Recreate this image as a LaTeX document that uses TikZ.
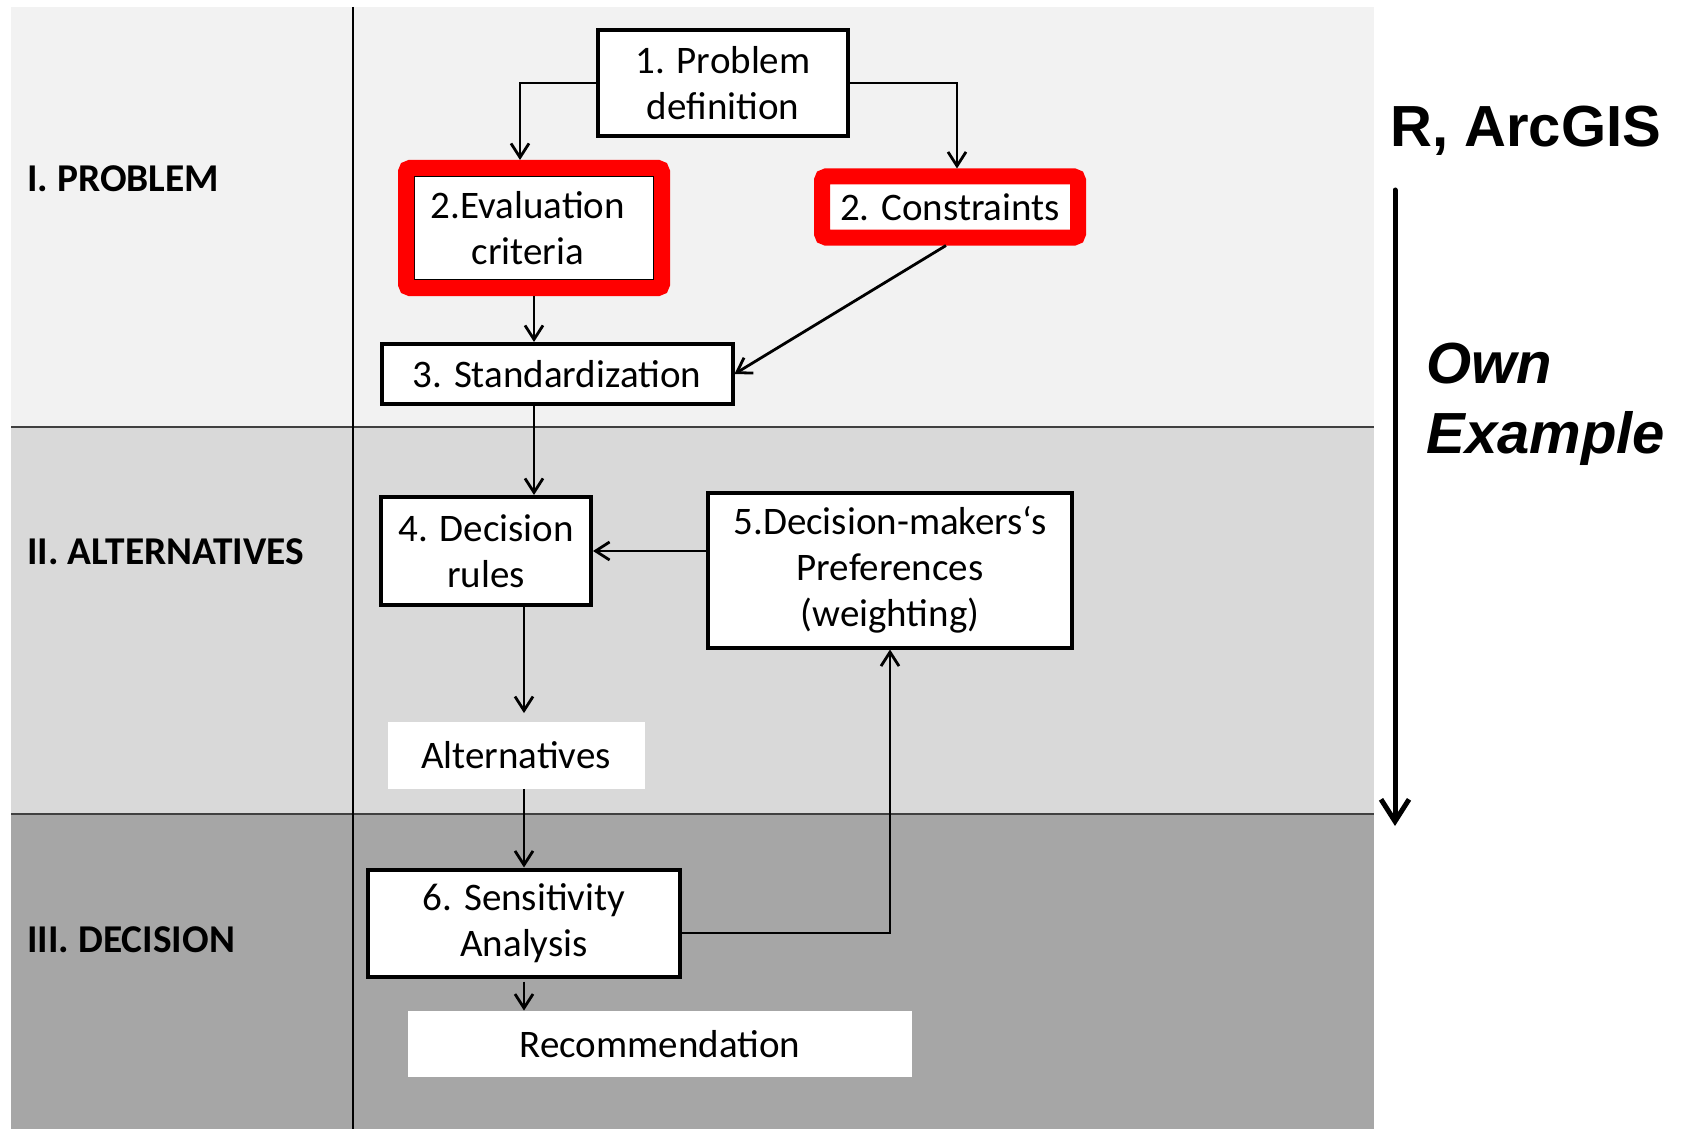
\documentclass[tikz,border=0pt]{standalone}
\usepackage{fontspec}
\setmainfont{Carlito}
\newfontfamily\arialfont{Liberation Sans}
\usetikzlibrary{arrows.meta, positioning, fit}
\definecolor{bandtop}{RGB}{242,242,242}
\definecolor{bandmid}{RGB}{217,217,217}
\definecolor{bandlow}{RGB}{166,166,166}
\definecolor{markred}{RGB}{255,0,0}
\definecolor{laneline}{RGB}{64,64,64}

\begin{document}
\begin{tikzpicture}[
    x=0.5pt, y=-0.5pt,
    every node/.style={font=\fontsize{19.5}{23}\selectfont},
    procbox/.style={draw, line width=2pt, fill=white, align=center, inner sep=0pt},
    plainbox/.style={fill=white, align=center, inner sep=0pt},
    redframe/.style={draw=markred, line width=8pt, rounded corners=2pt},
    lanetext/.style={anchor=west, inner sep=0pt, font=\fontsize{19.7}{23}\selectfont\bfseries},
    arrow/.style={-{Straight Barb[length=7pt, width=9pt]}, line width=1.4pt}
]
    \useasboundingbox (0,0) rectangle (1682,1129);

    % Swim lanes
    \fill[bandtop] (11,7) rectangle (1374,427);
    \fill[bandmid] (11,427) rectangle (1374,814);
    \fill[bandlow] (11,814) rectangle (1374,1129);
    \draw[laneline, line width=1pt] (11,427) -- (1374,427);
    \draw[laneline, line width=1pt] (11,814) -- (1374,814);
    \draw[line width=1pt] (353,7) -- (353,1129);

    \node[lanetext] (lane1) at (27,179) {I. PROBLEM};
    \node[lanetext] (lane2) at (27,552) {II. ALTERNATIVES};
    \node[lanetext] (lane3) at (27,940) {III. DECISION};

    % Steps
    \node[procbox, minimum width=125pt, minimum height=53pt] (prob) at (723,83) {1. Problem\\definition};
    \node[procbox, minimum width=121pt, minimum height=53pt] (eval) at (534,228) {2.Evaluation\hspace*{6pt}\\criteria\hspace*{6pt}};
    \node[procbox, minimum width=122pt, minimum height=24.5pt] (cons) at (950,207) {2. Constraints};
    \node[procbox, minimum width=175.5pt, minimum height=30pt] (stand) at (557,374) {3. Standardization};
    \node[procbox, minimum width=105pt, minimum height=54pt] (dec) at (486,551) {4. Decision\\rules};
    \node[procbox, minimum width=182pt, minimum height=77.5pt] (pref) at (890,570) {5.Decision-makers‘s\\Preferences\\(weighting)};
    \node[plainbox, minimum width=128.5pt, minimum height=33.5pt] (alt) at (516,755) {Alternatives};
    \node[procbox, minimum width=156pt, minimum height=53.5pt] (sens) at (524,923) {6. Sensitivity\\Analysis};
    \node[plainbox, minimum width=252pt, minimum height=33pt] (rec) at (660,1044) {Recommendation};

    % Highlights
    \node[redframe, fit=(eval), inner sep=2.5pt] (evalmark) {};
    \node[redframe, fit=(cons), inner sep=2pt] (consmark) {};

    % Arrows
    \draw[arrow] (prob.west) -| ([xshift=-7pt]evalmark.north);
    \draw[arrow] (prob.east) -| ([xshift=3.5pt]consmark.north);
    \draw[arrow] (evalmark.south) -- (evalmark.south |- stand.north);
    \draw[arrow] ([xshift=-2pt]consmark.south) -- (stand.east);
    \draw[arrow] (evalmark.south |- stand.south) -- (evalmark.south |- dec.north);
    \draw[arrow] (pref.west |- dec.east) -- (dec.east);
    \draw[arrow, shorten >=4pt] (dec.south -| sens.north) -- (alt.north -| sens.north);
    \draw[arrow] (alt.south -| sens.north) -- (sens.north);
    \draw[arrow, shorten <=1.5pt] (sens.south) -- (sens.south |- rec.north);
    \draw[arrow] ([yshift=-5pt]sens.east) -| (pref.south);

    % Tools and flow
    \node[anchor=base west, inner sep=0pt, font=\arialfont\fontsize{29}{35}\selectfont\bfseries] (tools) at (1390,147) {R, ArcGIS};
    \coordinate (flowtop) at (1395,190);
    \coordinate (flowend) at (1395,826);
    \draw[-{Straight Barb[length=11pt, width=14pt]}, line width=2.5pt, line cap=round] (flowtop) -- (flowend);
    \node[anchor=west, inner sep=0pt, align=left, font=\arialfont\fontsize{29}{35}\selectfont\bfseries\itshape] (example) at (1426,404) {Own\\Example};
\end{tikzpicture}
\end{document}
